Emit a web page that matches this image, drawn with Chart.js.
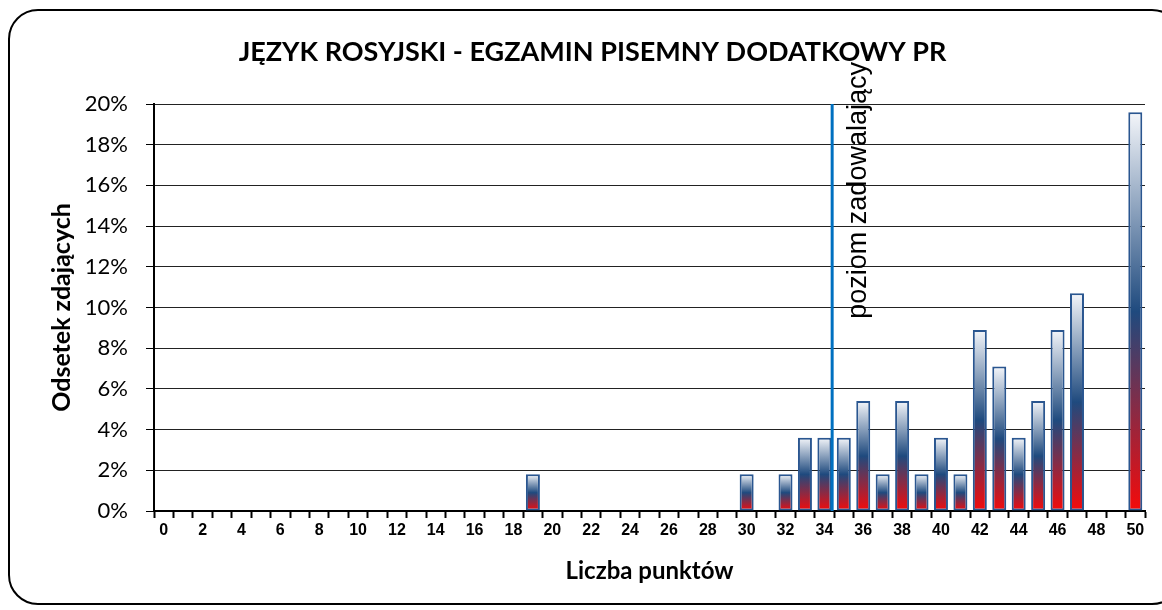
<!DOCTYPE html>
<html>
<head>
<meta charset="utf-8">
<script src="https://cdn.jsdelivr.net/npm/chart.js@4.4.0/dist/chart.umd.min.js"></script>
<style>
  html, body { margin: 0; padding: 0; background: #fff; overflow: hidden; }
  #wrap { position: relative; width: 1162px; height: 610px; }
  #frame { position: absolute; left: 8px; top: 9px; width: 1170px; height: 592px;
           border: 2px solid #000; border-radius: 30px; }
  canvas { position: absolute; left: 0; top: 0; }
</style>
</head>
<body>
<div id="wrap">
  <div id="frame"></div>
  <canvas id="myChart" width="1162" height="610"></canvas>
</div>
<script>
// points 0..50
var points = ['0','1','2','3','4','5','6','7','8','9','10','11','12','13','14','15','16','17','18','19','20',
  '21','22','23','24','25','26','27','28','29','30','31','32','33','34','35','36','37','38','39','40',
  '41','42','43','44','45','46','47','48','49','50'];

// percent of students
var shares = [0,0,0,0,0,0,0,0,0,0,0,0,0,0,0,0,0,0,0,1.8,0,
  0,0,0,0,0,0,0,0,0,1.8,0,1.8,3.6,3.6,3.6,5.4,1.8,5.4,1.8,3.6,
  1.8,8.9,7.1,3.6,5.4,8.9,10.7,0,0,19.6];

var yTicks = ['0%','2%','4%','6%','8%','10%','12%','14%','16%','18%','20%'];

var threshold = 34.4;   // position of the "poziom zadowalający" line on the x axis
var thresholdLabel = 'poziom zadowalający';

function barGradient(context) {
  var chart = context.chart;
  if (!chart.chartArea || !chart.scales.y) return '#1F497D';
  var y = chart.scales.y;
  var top = y.getPixelForValue(context.raw);
  var bottom = y.getPixelForValue(0);
  if (bottom - top < 1) return '#1F497D';
  var g = chart.ctx.createLinearGradient(0, top, 0, bottom);
  g.addColorStop(0, '#F4F6FA');
  g.addColorStop(0.5, '#1F4A7E');
  g.addColorStop(1, '#F50A0A');
  return g;
}

// vertical line + its label
var thresholdLine = {
  id: 'thresholdLine',
  afterDatasetsDraw: function (chart) {
    var ctx = chart.ctx;
    var xs = chart.scales.x, ys = chart.scales.y;
    var x = xs.getPixelForValue(threshold);
    ctx.save();
    ctx.strokeStyle = '#0070C0';
    ctx.lineWidth = 3;
    ctx.beginPath();
    ctx.moveTo(x, ys.getPixelForValue(20));
    ctx.lineTo(x, ys.getPixelForValue(0));
    ctx.stroke();
    ctx.translate(x + 26, ys.getPixelForValue(9.45));
    ctx.rotate(-Math.PI / 2);
    ctx.fillStyle = '#000';
    ctx.font = '27px "Liberation Sans", Arial, sans-serif';
    ctx.textAlign = 'left';
    ctx.textBaseline = 'middle';
    ctx.fillText(thresholdLabel, 0, 0);
    ctx.restore();
  }
};

var ctx = document.getElementById('myChart').getContext('2d');
var chart = new Chart(ctx, {
  type: 'bar',
  data: {
    labels: points,
    datasets: [{
      label: 'Odsetek zdających',
      data: shares,
      backgroundColor: barGradient,
      borderColor: '#2A5690',
      borderWidth: function (c) { return c.raw > 0 ? 2 : 0; },
      borderSkipped: false,
      barPercentage: 0.72,
      categoryPercentage: 1
    }]
  },
  options: {
    responsive: false,
    animation: false,
    layout: { padding: { left: 40, right: 17, top: 0, bottom: 24 } },
    plugins: {
      legend: { display: false },
      tooltip: { enabled: false },
      title: {
        display: true,
        text: 'JĘZYK ROSYJSKI - EGZAMIN PISEMNY DODATKOWY PR',
        color: '#000',
        font: { family: 'Lato', size: 27, weight: 'bold', lineHeight: 1.2 },
        padding: { top: 36, bottom: 35.6 }
      }
    },
    scales: {
      x: {
        grid: { drawOnChartArea: false, drawTicks: true, tickLength: 7, tickColor: '#000', tickWidth: 2, offset: true },
        border: { color: '#000', width: 2 },
        ticks: {
          autoSkip: false, maxRotation: 0, padding: 3, color: '#000',
          font: { family: '"Liberation Sans Narrow", "Arial Narrow", sans-serif', size: 16, weight: 'bold' },
          callback: function (v, i) { return i % 2 === 0 ? points[i] : ''; }
        },
        title: {
          display: true, text: 'Liczba punktów', color: '#000',
          font: { family: 'Lato', size: 24, weight: 'bold' },
          padding: { top: 14, bottom: 0 }
        },
        afterFit: function (s) { s.height = 75; }
      },
      y: {
        min: 0, max: 20,
        ticks: {
          stepSize: 2, padding: 18, color: '#000',
          font: { family: 'Lato', size: 22 },
          callback: function (v) { return yTicks[v / 2]; }
        },
        grid: { color: '#222', lineWidth: 1, drawTicks: true, tickLength: 8, tickColor: '#000' },
        border: { color: '#000', width: 2 },
        title: {
          display: true, text: 'Odsetek zdających', color: '#000',
          font: { family: 'Lato', size: 25, weight: 'bold' },
          padding: { top: 7, bottom: 0 }
        },
        afterFit: function (s) { s.width = 114; }
      }
    }
  },
  plugins: [thresholdLine]
});
</script>
</body>
</html>
